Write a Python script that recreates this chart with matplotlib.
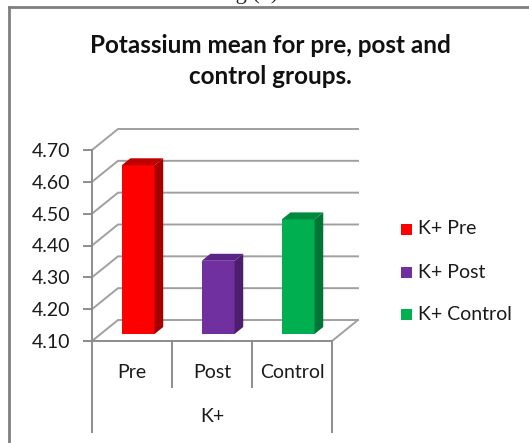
import matplotlib
matplotlib.use("Agg")
import matplotlib.pyplot as plt
from matplotlib.patches import Polygon, Rectangle
from matplotlib.lines import Line2D

# ---- data ----
categories = ["Pre", "Post", "Control"]
group_label = "K+"
series_labels = ["K+ Pre", "K+ Post", "K+ Control"]
values = [4.63, 4.33, 4.46]
yticks = [4.10, 4.20, 4.30, 4.40, 4.50, 4.60, 4.70]
title = "Potassium mean for pre, post and\ncontrol groups."

front_colors = ["#FF0000", "#7030A0", "#00B050"]
side_colors = ["#A50000", "#4B1E6E", "#007535"]
top_colors = ["#C00000", "#5A2586", "#008A3E"]

FONT = "Lato"
FS = 14
W, H = 529, 443
fig = plt.figure(figsize=(W / 100, H / 100), dpi=100)


def fx(x):
    return x / W


def fy(y):
    return 1 - y / H


# front plane of the plot: x 92..332 px, y 341 (4.10) .. 150 (4.70)
L, R, B, T = 92, 332, 341, 150
ax = fig.add_axes([fx(L), fy(B), (R - L) / W, (B - T) / H])
ymin, ymax = yticks[0], yticks[-1]
ax.set_xlim(-0.5, len(categories) - 0.5)
ax.set_ylim(ymin, ymax)

px_x = (R - L) / len(categories)       # pixels per x unit
px_y = (B - T) / (ymax - ymin)         # pixels per y unit
dx = 26 / px_x                          # depth offset in data units
dy = 21 / px_y

grid_c = "#A0A0A0"
axis_c = "#8C8C8C"
x0, x1 = -0.5, len(categories) - 0.5

# back wall gridlines and side-wall diagonals
for v in yticks:
    ax.plot([x0, x0 + dx, x1 + dx], [v, v + dy, v + dy], color=grid_c, lw=1.4,
            clip_on=False, zorder=1, solid_joinstyle="miter")
# floor right diagonal
ax.plot([x1, x1 + dx], [ymin, ymin + dy], color=grid_c, lw=1.4, clip_on=False, zorder=1)

# y axis
for s in ["top", "right", "bottom"]:
    ax.spines[s].set_visible(False)
ax.spines["left"].set_color(axis_c)
ax.spines["left"].set_linewidth(1.4)
ax.set_yticks(yticks)
ax.set_yticklabels([f"{t:.2f}" for t in yticks], fontsize=FS, family=FONT, color="#1a1a1a")
ax.tick_params(axis="y", length=6.5, width=1.4, color=axis_c, pad=9)
ax.set_xticks([])
ax.patch.set_visible(False)

# floor front line
ax.plot([x0 - 8 / px_x, x1], [ymin, ymin], color=axis_c, lw=1.4, clip_on=False, zorder=2)

# bars (middle third of the depth)
bw = 0.41
for i, (v, fc, sc, tc) in enumerate(zip(values, front_colors, side_colors, top_colors)):
    ox, oy = dx / 3 - 2.5 / px_x, dy / 3
    xl = i - bw / 2 + ox
    xr = xl + bw
    yb = ymin + oy
    ax.bar(xl + bw / 2, v - ymin, bottom=yb, width=bw, color=fc, zorder=5, clip_on=False)
    ddx, ddy = dx / 3, dy / 3
    ax.add_patch(Polygon([(xr, yb), (xr + ddx, yb + ddy), (xr + ddx, v + oy + ddy), (xr, v + oy)],
                         closed=True, facecolor=sc, edgecolor="none", zorder=5, clip_on=False))
    ax.add_patch(Polygon([(xl, v + oy), (xr, v + oy), (xr + ddx, v + oy + ddy), (xl + ddx, v + oy + ddy)],
                         closed=True, facecolor=tc, edgecolor="none", zorder=5, clip_on=False))

# category axis below
short = 46 / px_y
long_ = 91 / px_y
for k in range(len(categories) + 1):
    xk = x0 + k
    ln = long_ if k in (0, len(categories)) else short
    ax.plot([xk, xk], [ymin, ymin - ln], color=axis_c, lw=1.4, clip_on=False, zorder=2)
for i, c in enumerate(categories):
    ax.text(i, ymin - 32 / px_y, c, ha="center", va="center", fontsize=FS,
            family=FONT, color="#1a1a1a", clip_on=False)
ax.text((x0 + x1) / 2, ymin - 76 / px_y, group_label, ha="center", va="center",
        fontsize=FS, family=FONT, color="#1a1a1a", clip_on=False)

# title
fig.text(fx(270), fy(61), title, ha="center", va="center", fontsize=17.5,
         fontweight="bold", family=FONT, color="#111111", linespacing=1.45)

# legend
ly = [229, 272, 314]
for y, lab, c in zip(ly, series_labels, front_colors):
    fig.add_artist(Rectangle((fx(401), fy(y + 5.5)), 11 / W, 11 / H, transform=fig.transFigure,
                             facecolor=c, edgecolor="none"))
    fig.text(fx(418), fy(y), lab, ha="left", va="center", fontsize=FS, family=FONT, color="#1a1a1a")

# outer frame (partial) and clipped caption above
fig.add_artist(Line2D([fx(9), fx(9)], [fy(7), fy(H + 5)], color="#7F7F7F", lw=2, transform=fig.transFigure))
fig.add_artist(Line2D([fx(9), fx(W + 5)], [fy(7), fy(7)], color="#7F7F7F", lw=2, transform=fig.transFigure))
fig.text(fx(248), fy(-1), "Fig (3)", ha="center", va="baseline", fontsize=16, family="Liberation Serif",
         color="#222222")

fig.savefig("out.png", dpi=100, facecolor="white")
